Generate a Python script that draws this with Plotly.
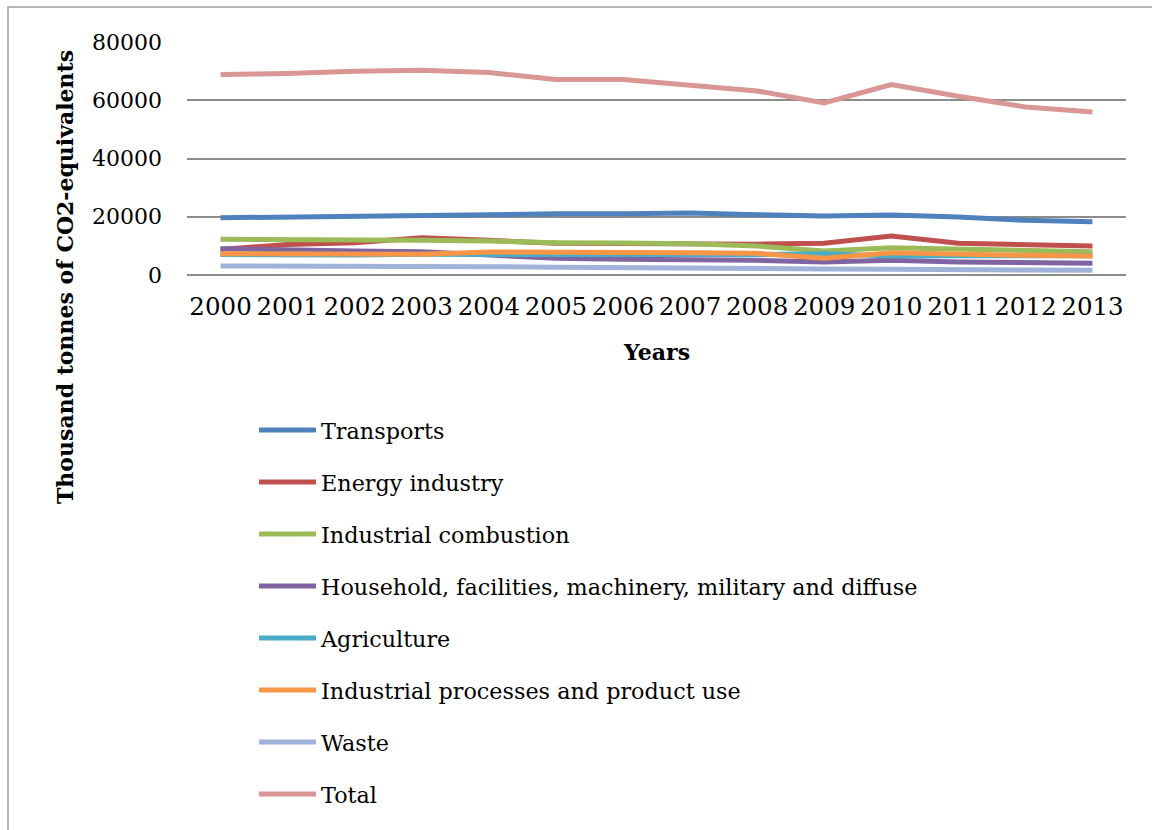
import plotly.graph_objects as go

years = [str(y) for y in range(2000, 2014)]
transports = [19650, 20000, 20350, 20600, 21000, 21000, 21000, 21270, 20700, 20240, 20580, 19900, 18760, 18300]
energy = [8800, 10500, 11100, 12800, 11900, 10900, 10800, 10550, 10600, 10870, 13380, 10870, 10530, 9950]
ind_comb = [12240, 12240, 12000, 11900, 11700, 11100, 11000, 10750, 9950, 8230, 9370, 8800, 8230, 8000]
household = [9030, 8500, 8230, 8000, 6800, 5720, 5380, 5380, 5040, 4460, 5040, 4460, 4230, 4000]
agriculture = [7000, 6800, 6900, 7100, 7100, 6800, 6700, 6800, 7000, 7300, 6500, 6600, 6700, 6600]
ind_proc = [7300, 7300, 7300, 7090, 7890, 7890, 7700, 7660, 7430, 5720, 7660, 7090, 6750, 6520]
waste = [3090, 3090, 2900, 2860, 2860, 2640, 2400, 2300, 2100, 2100, 1950, 1850, 1600, 1600]
total = [68800, 69150, 69950, 70300, 69500, 67100, 67100, 65150, 63200, 59100, 65400, 61400, 57700, 56000]

series_names = ["Transports", "Energy industry", "Industrial combustion",
                "Household, facilities, machinery, military and diffuse",
                "Agriculture", "Industrial processes and product use", "Waste", "Total"]
series_values = [transports, energy, ind_comb, household, agriculture, ind_proc, waste, total]
colors = ["#4F81BD", "#C0504D", "#9BBB59", "#8064A2", "#4BACC6", "#F79646", "#9EB3D7", "#D99694"]

FONT = "DejaVu Serif"

fig = go.Figure()
for i, (name, vals, col) in enumerate(zip(series_names, series_values, colors)):
    fig.add_trace(go.Scatter(x=years, y=vals, name=name, mode="lines",
                             line=dict(color=col, width=5), legendgroup=f"g{i}"))

W, H = 1152, 830
L, R, T, B = 187, 26, 42, 555
pw, ph = W - L - R, H - T - B

def px_x(p):
    return (p - L) / pw

def px_y(p):
    return (H - B - p) / ph

fig.update_layout(
    width=W, height=H,
    margin=dict(l=L, r=R, t=T, b=B, autoexpand=False),
    paper_bgcolor="white", plot_bgcolor="white",
    font=dict(family=FONT, size=22, color="black"),
    showlegend=True,
    legend=dict(x=px_x(254), y=px_y(409), xanchor="left", yanchor="top",
                font=dict(family=FONT, size=22.3), itemwidth=57,
                tracegroupgap=20, bgcolor="rgba(0,0,0,0)", maxheight=2000),
    xaxis=dict(type="category", range=[-0.5, len(years) - 0.5],
               showgrid=False, showline=False, ticks="",
               tickfont=dict(size=24.5), ticklabelstandoff=14),
    yaxis=dict(range=[0, 80000], tickvals=[0, 20000, 40000, 60000, 80000],
               ticktext=["0", "20000", "40000", "60000", "80000"],
               showgrid=True, gridcolor="#8c8c8c", gridwidth=1.5, zeroline=True,
               zerolinecolor="#8c8c8c", zerolinewidth=2, showline=False, ticks="",
               tickfont=dict(size=22), ticklabelstandoff=24),
    annotations=[
        dict(text="<b>Thousand tonnes of CO2-equivalents</b>", textangle=-90,
             xref="paper", yref="paper", x=px_x(65), y=px_y(277),
             xanchor="center", yanchor="middle", showarrow=False,
             font=dict(family=FONT, size=22)),
        dict(text="<b>Years</b>", xref="paper", yref="paper",
             x=px_x(656), y=px_y(352), xanchor="center", yanchor="middle",
             showarrow=False, font=dict(family=FONT, size=22)),
    ],
    shapes=[dict(type="rect", xref="paper", yref="paper",
                 x0=px_x(8), x1=px_x(1170), y0=px_y(860), y1=px_y(7),
                 line=dict(color="#a0a0a0", width=1.5), layer="below")],
)

fig.write_html("out.html")
